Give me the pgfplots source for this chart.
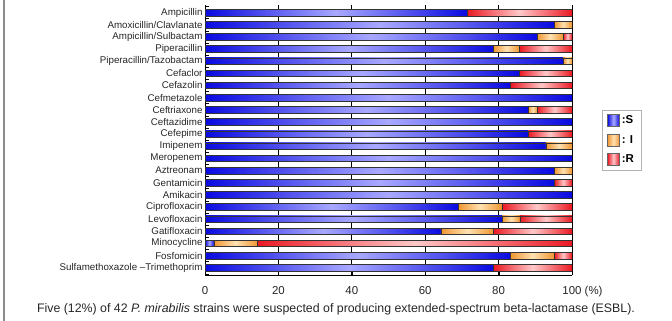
\documentclass[border=0pt]{standalone}
\usepackage{pgfplots}
\pgfplotsset{compat=1.18}
\usepackage{pgfplotstable}
\usepackage{fontspec}
\setmainfont{Liberation Sans}
\setsansfont{Liberation Sans}
\definecolor{sEdge}{RGB}{10,10,225}
\definecolor{sMid}{RGB}{168,168,255}
\definecolor{iEdge}{RGB}{240,150,50}
\definecolor{iMid}{RGB}{255,226,178}
\definecolor{rEdge}{RGB}{235,25,35}
\definecolor{rMid}{RGB}{255,200,200}
\pgfplotstableread{
idx S I R
0 71.4 0 28.6
1 95.2 4.8 0
2 90.5 7.1 2.4
3 78.6 7.1 14.3
4 97.6 2.4 0
5 85.7 0 14.3
6 83.3 0 16.7
7 100 0 0
8 88.1 2.4 9.5
9 100 0 0
10 88.1 0 11.9
11 92.9 7.1 0
12 100 0 0
13 95.2 4.8 0
14 95.2 0 4.8
15 100 0 0
16 69.0 11.9 19.1
17 81.0 4.8 14.2
18 64.3 14.3 21.4
19 2.4 11.9 85.7
20 83.3 11.9 4.8
21 78.6 0 21.4
}\datatable
% one shaded bar segment from x=#1 to x=#2 in row #3, colours #4 (edge) and #5 (middle)
\newcommand\seg[5]{%
  \pgfmathtruncatemacro\segok{((#2)-(#1))>0.01}%
  \ifnum\segok=1
    \pgfmathsetmacro\ylo{#3-0.268}%
    \pgfmathsetmacro\yhi{#3+0.268}%
    \edef\segtemp{\noexpand\addplot[forget plot, draw=black!80, line width=0.5bp,
      left color=#4, right color=#4, middle color=#5]
      coordinates {(#1,\ylo) (#2,\ylo) (#2,\yhi) (#1,\yhi)} -- cycle;}%
    \segtemp
  \fi
}
\begin{document}
\begin{tikzpicture}
\useasboundingbox (0,0) rectangle (672bp,321bp);
\draw[gray!90, line width=1.2bp] (4bp,0) -- (4bp,321bp);
\begin{axis}[
  at={(205bp,46bp)}, anchor=south west,
  scale only axis, width=367bp, height=270bp,
  xmin=0, xmax=100,
  ymin=-0.62, ymax=21.6, y dir=reverse,
  axis x line*=bottom, axis y line*=left,
  ytick={0,...,21},
  yticklabels={Ampicillin,Amoxicillin/Clavlanate,Ampicillin/Sulbactam,Piperacillin,Piperacillin/Tazobactam,Cefaclor,Cefazolin,Cefmetazole,Ceftriaxone,Ceftazidime,Cefepime,Imipenem,Meropenem,Aztreonam,Gentamicin,Amikacin,Ciprofloxacin,Levofloxacin,Gatifloxacin,Minocycline,Fosfomicin,{Sulfamethoxazole –Trimethoprim}},
  major y tick style={draw=none},
  minor ytick={-0.5,0.5,...,21.5},
  minor y tick style={black, line width=0.5bp},
  minor tick length=3.5bp,
  xtick={0,20,40,60,80,100},
  xticklabels={0,20,40,60,80,{100\rlap{ (\%)}}},
  major x tick style={black},
  major tick length=3bp,
  xmajorgrids, grid style={black, line width=0.7bp},
  y axis line style={draw=none},
  x axis line style={black, line width=0.7bp},
  yticklabel style={font=\fontsize{9.8}{11}\selectfont, text=black!85, xshift=1bp},
  xticklabel style={font=\fontsize{11.5}{13}\selectfont, text=black!85, yshift=-8bp},
  /pgf/number format/assume math mode=true,
  legend style={at={(1,0.5)}, anchor=west, xshift=30bp, draw=gray!60,
    font=\fontsize{11.5}{13}\selectfont\bfseries, row sep=6bp, inner xsep=5bp, inner ysep=4bp},
  legend cell align=left,
  legend image code/.code={\path[#1, draw=gray!80!black, line width=0.6bp] (0bp,-6bp) rectangle (12bp,6bp);},
]
\pgfplotsinvokeforeach{0,...,21}{
  \pgfplotstablegetelem{#1}{S}\of\datatable \edef\vS{\pgfplotsretval}
  \pgfplotstablegetelem{#1}{I}\of\datatable \edef\vI{\pgfplotsretval}
  \pgfplotstablegetelem{#1}{R}\of\datatable \edef\vR{\pgfplotsretval}
  \pgfmathsetmacro\xa{\vS}
  \pgfmathsetmacro\xb{\vS+\vI}
  \pgfmathsetmacro\xc{\vS+\vI+\vR}
  \seg{0}{\xa}{#1}{sEdge}{sMid}
  \seg{\xa}{\xb}{#1}{iEdge}{iMid}
  \seg{\xb}{\xc}{#1}{rEdge}{rMid}
}
\addlegendimage{left color=sEdge, right color=sEdge, middle color=sMid}
\addlegendentry{:S}
\addlegendimage{left color=iEdge, right color=iEdge, middle color=iMid}
\addlegendentry{: I}
\addlegendimage{left color=rEdge, right color=rEdge, middle color=rMid}
\addlegendentry{:R}
\end{axis}
\node[font=\fontsize{12.4}{14}\selectfont, text=black!85] at (336bp,12bp) {Five (12\%) of 42 \textit{P. mirabilis} strains were suspected of producing extended-spectrum beta-lactamase (ESBL).};
\end{tikzpicture}
\end{document}
